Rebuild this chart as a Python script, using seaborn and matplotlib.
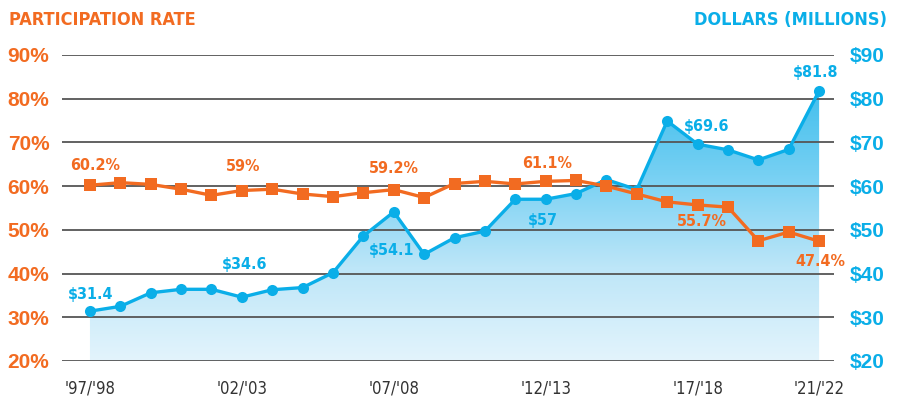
import numpy as np
import pandas as pd
import seaborn as sns
import matplotlib.pyplot as plt
from matplotlib import font_manager
from matplotlib.colors import LinearSegmentedColormap

# datos
years = ["'97/'98", "'98/'99", "'99/'00", "'00/'01", "'01/'02", "'02/'03", "'03/'04",
         "'04/'05", "'05/'06", "'06/'07", "'07/'08", "'08/'09", "'09/'10", "'10/'11",
         "'11/'12", "'12/'13", "'13/'14", "'14/'15", "'15/'16", "'16/'17", "'17/'18",
         "'18/'19", "'19/'20", "'20/'21", "'21/'22"]
rate = [60.2, 60.8, 60.4, 59.3, 57.9, 59.0, 59.3, 58.2, 57.6, 58.5, 59.2, 57.4, 60.6,
        61.1, 60.5, 61.1, 61.3, 60.0, 58.2, 56.4, 55.7, 55.2, 47.5, 49.5, 47.4]
dollars = [31.4, 32.5, 35.6, 36.4, 36.4, 34.6, 36.3, 36.8, 40.2, 48.6, 54.1, 44.4, 48.2,
           49.7, 57.0, 57.0, 58.3, 61.5, 59.2, 74.9, 69.6, 68.3, 66.0, 68.4, 81.8]
shown_ticks = ["'97/'98", "'02/'03", "'07/'08", "'12/'13", "'17/'18", "'21/'22"]
rate_ticks = [20, 30, 40, 50, 60, 70, 80, 90]
dollar_ticks = [20, 30, 40, 50, 60, 70, 80, 90]

# etiquetas: (indice, texto, desplazamiento en pixeles)
rate_notes = [(0, '60.2%', (5, 20)), (5, '59%', (1, 24)), (10, '59.2%', (0, 21)),
              (15, '61.1%', (1, 18)), (20, '55.7%', (4, -17)), (24, '47.4%', (1, -20))]
dollar_notes = [(0, '$31.4', (1, 17)), (5, '$34.6', (3, 33)), (10, '$54.1', (-2, -39)),
                (15, '$57', (-3, -21)), (20, '$69.6', (9, 18)), (24, '$81.8', (-3, 18))]

df = pd.DataFrame({'year': years, 'rate': rate, 'dollars': dollars})
df['x'] = np.arange(len(df))

ORANGE = '#f26b21'
BLUE = '#0aaee8'
GRID = '#555555'

sns.set_style('white')
plt.rcParams['font.family'] = ['Liberation Sans', 'DejaVu Sans']

# fuente estrecha si existe
nombres = {f.name for f in font_manager.fontManager.ttflist}
if 'Liberation Sans Narrow' in nombres:
    NARROW = dict(family=['Liberation Sans Narrow', 'DejaVu Sans'])
else:
    NARROW = dict(family=['DejaVu Sans'], fontstretch='condensed')

fig = plt.figure(figsize=(9.05, 4.0), dpi=100)
ax = fig.add_axes([62 / 905, 1 - 361 / 400, (834 - 62) / 905, (361 - 55) / 400])
ax2 = ax.twinx()

# relleno con degradado bajo la serie azul
poly = ax2.fill_between(df['x'], df['dollars'], 20, facecolor='none', edgecolor='none')
cmap = LinearSegmentedColormap.from_list('fondo', ['#e3f4fc', '#bde6f8', '#76d0f3', '#3dbdec'])
grad = np.linspace(0, 1, 256).reshape(-1, 1)
img = ax2.imshow(grad, extent=[-1, 25, 20, 84], origin='lower', aspect='auto',
                 cmap=cmap, zorder=0.5)
img.set_clip_path(poly.get_paths()[0], transform=ax2.transData)

for t in dollar_ticks:
    ax2.axhline(t, color=GRID, lw=1.3, zorder=1)

sns.lineplot(data=df, x='x', y='dollars', ax=ax2, color=BLUE, lw=2.4, marker='o',
             markersize=8, markeredgewidth=0, zorder=3)
sns.lineplot(data=df, x='x', y='rate', ax=ax, color=ORANGE, lw=2.4, marker='s',
             markersize=8, markeredgewidth=0, zorder=4)

ax.set_zorder(ax2.get_zorder() + 1)
ax.patch.set_visible(False)

for a in (ax, ax2):
    a.set_xlim(-0.92, 24.49)
    a.set_ylim(20, 90)
    a.set_xlabel('')
    a.set_ylabel('')
    for s in a.spines.values():
        s.set_visible(False)
    a.tick_params(length=0)

ax.set_xticks([years.index(y) for y in shown_ticks])
ax.set_xticklabels(shown_ticks, fontsize=12, color='#333333', **NARROW)
ax.tick_params(axis='x', pad=13)
ax.set_yticks(rate_ticks)
ax.set_yticklabels([f'{t}%' for t in rate_ticks], fontsize=15, fontweight='bold', color=ORANGE)
ax.tick_params(axis='y', pad=9)
ax2.set_yticks(dollar_ticks)
ax2.set_yticklabels([f'${t}' for t in dollar_ticks], fontsize=15, fontweight='bold', color=BLUE)
ax2.tick_params(axis='y', pad=11)

for i, txt, (dx, dy) in rate_notes:
    ax.annotate(txt, (i, rate[i]), xytext=(dx, dy), textcoords='offset pixels',
                ha='center', va='center', fontsize=11.5, fontweight='bold',
                color=ORANGE, zorder=6, **NARROW)
for i, txt, (dx, dy) in dollar_notes:
    ax2.annotate(txt, (i, dollars[i]), xytext=(dx, dy), textcoords='offset pixels',
                 ha='center', va='center', fontsize=11.5, fontweight='bold',
                 color=BLUE, zorder=6, **NARROW)

fig.text(9 / 905, 1 - 20 / 400, 'PARTICIPATION RATE', ha='left', va='center',
         fontsize=13, fontweight='bold', color=ORANGE, **NARROW)
fig.text(887 / 905, 1 - 20 / 400, 'DOLLARS (MILLIONS)', ha='right', va='center',
         fontsize=13, fontweight='bold', color=BLUE, **NARROW)

fig.savefig('out.png', dpi=100, facecolor='white')
